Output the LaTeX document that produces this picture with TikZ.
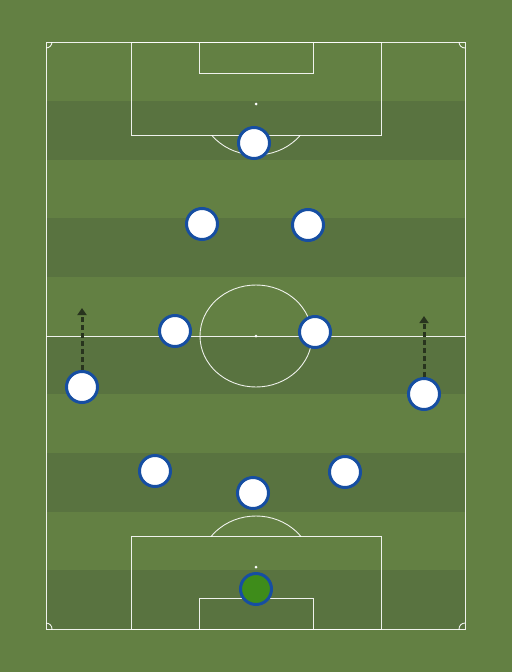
\documentclass[tikz,border=0pt]{standalone}
\usetikzlibrary{arrows.meta,shadows}
\definecolor{grass}{RGB}{99,128,67}
\definecolor{darkgrass}{RGB}{89,115,64}
\definecolor{kitblue}{RGB}{22,78,162}
\definecolor{keeper}{RGB}{62,140,26}
\definecolor{runline}{RGB}{40,52,30}
\tikzstyle{pitchline}=[draw=white, draw opacity=0.9, line width=0.9pt]
\tikzstyle{spot}=[circle, fill=white, minimum size=3pt, inner sep=0pt]
\tikzstyle{player}=[circle, fill=white, draw=kitblue, line width=3pt, minimum size=31pt, inner sep=0pt, drop shadow={opacity=0.3, shadow xshift=0.5pt, shadow yshift=-1.5pt}]
\tikzstyle{run}=[draw=runline, line width=3pt, dash pattern=on 5pt off 3pt, -{Triangle[width=9pt,length=7pt]}]
\newcommand{\drawpitch}[0]
{
  \fill[darkgrass] (46,101) rectangle (465,160);
  \fill[darkgrass] (46,218) rectangle (465,277);
  \fill[darkgrass] (46,336) rectangle (465,394);
  \fill[darkgrass] (46,453) rectangle (465,512);
  \fill[darkgrass] (46,570) rectangle (465,629);
  \draw[pitchline] (46,42) rectangle (465,629);
  \draw[pitchline] (46,336) -- (465,336);
  \draw[pitchline] (256,336) ellipse [x radius=56, y radius=51];
  \draw[pitchline] (131,42) rectangle (381,135);
  \draw[pitchline] (199,42) rectangle (313,73);
  \draw[pitchline] (131,536) rectangle (381,629);
  \draw[pitchline] (199,598) rectangle (313,629);
  \begin{scope}
    \clip (131,135) rectangle (381,200);
    \draw[pitchline] (256,104) ellipse [x radius=56, y radius=51];
  \end{scope}
  \begin{scope}
    \clip (131,470) rectangle (381,536);
    \draw[pitchline] (256,567) ellipse [x radius=56, y radius=51];
  \end{scope}
  \begin{scope}
    \clip (46,42) rectangle (465,629);
    \draw[pitchline] (46,42) circle [radius=6];
    \draw[pitchline] (465,42) circle [radius=6];
    \draw[pitchline] (46,629) circle [radius=6];
    \draw[pitchline] (465,629) circle [radius=6];
  \end{scope}
  \node[spot] (topspot) at (256,104) {};
  \node[spot] (midspot) at (256,336) {};
  \node[spot] (botspot) at (256,567) {};
}

\begin{document}
\begin{tikzpicture}[x=1pt, y=-1pt]
	\fill[grass] (0,0) rectangle (512,672);
	\useasboundingbox (0,0) rectangle (512,672);

	\drawpitch{}

	\node[player, fill=keeper] (gk) at (256,589) {};
	\node[player] (lcb) at (155,471) {};
	\node[player] (cb) at (253,493) {};
	\node[player] (rcb) at (345,472) {};
	\node[player] (lwb) at (82,387) {};
	\node[player] (rwb) at (424,394) {};
	\node[player] (lcm) at (175,331) {};
	\node[player] (rcm) at (315,332) {};
	\node[player] (lam) at (202,224) {};
	\node[player] (ram) at (308,225) {};
	\node[player] (st) at (254,143) {};

	\coordinate (lwbrun) at (82,308);
	\coordinate (rwbrun) at (424,316);
	\draw[run] (lwb) -- (lwbrun);
	\draw[run] (rwb) -- (rwbrun);

\end{tikzpicture}
\end{document}
